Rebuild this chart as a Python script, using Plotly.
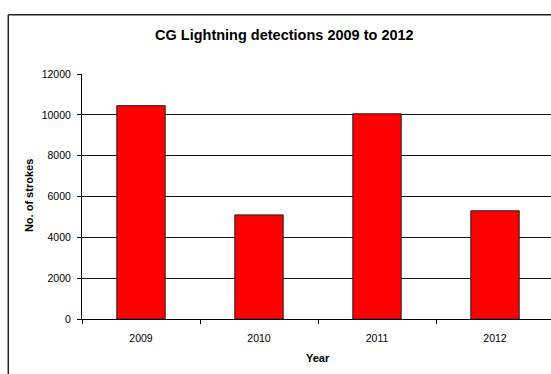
import plotly.graph_objects as go

years = ["2009", "2010", "2011", "2012"]
strokes = [10450, 5100, 10050, 5300]
y_ticks = [0, 2000, 4000, 6000, 8000, 10000, 12000]

W, H = 551, 374
L, T, B = 82, 73.5, 54.7
plot_w = W - L
plot_h = H - T - B
cat_w = 118.0
# the original plot extends slightly past the right edge of the picture
x_max = -0.5 + plot_w / cat_w

fig = go.Figure()
fig.add_trace(go.Bar(
    x=years, y=strokes,
    marker=dict(color="#FF0000", line=dict(color="#222222", width=1)),
    width=0.41,
))

font = "Liberation Sans, Arial, sans-serif"

def px_x(p):
    return (p - L) / plot_w

def px_y(p):
    return (H - B - p) / plot_h

fig.update_layout(
    width=W, height=H,
    margin=dict(l=L, r=0, t=T, b=B),
    paper_bgcolor="white", plot_bgcolor="white",
    showlegend=False,
    font=dict(family=font, size=10.5, color="#000000"),
    xaxis=dict(
        type="category", range=[-0.5, x_max],
        showgrid=False, showline=True, linecolor="#000000", linewidth=1,
        ticks="outside", ticklen=4, tickcolor="#000000", tickson="boundaries",
        tickfont=dict(size=10.5), zeroline=False, ticklabelstandoff=9,
    ),
    yaxis=dict(
        range=[0, 12000], tickvals=y_ticks, ticktext=[str(v) for v in y_ticks],
        showgrid=True, gridcolor="#111111", gridwidth=1,
        showline=True, linecolor="#000000", linewidth=1,
        ticks="outside", ticklen=4, tickcolor="#000000",
        tickfont=dict(size=10.5), zeroline=False, ticklabelstandoff=4,
    ),
    annotations=[
        dict(text="<b>CG Lightning detections 2009 to 2012</b>", xref="paper", yref="paper",
             x=px_x(284), y=px_y(34), showarrow=False, xanchor="center", yanchor="middle",
             font=dict(size=14.5, family=font, color="#000000")),
        dict(text="<b>No. of strokes</b>", xref="paper", yref="paper",
             x=px_x(29), y=px_y(196), showarrow=False, xanchor="center", yanchor="middle",
             textangle=-90, font=dict(size=11, family=font, color="#000000")),
        dict(text="<b>Year</b>", xref="paper", yref="paper",
             x=px_x(318), y=px_y(358), showarrow=False, xanchor="center", yanchor="middle",
             font=dict(size=11, family=font, color="#000000")),
    ],
    shapes=[
        dict(type="line", xref="paper", yref="paper",
             x0=px_x(8.3), x1=px_x(560), y0=px_y(14), y1=px_y(14),
             line=dict(color="#222222", width=1.5)),
        dict(type="line", xref="paper", yref="paper",
             x0=px_x(8.3), x1=px_x(8.3), y0=px_y(14), y1=px_y(380),
             line=dict(color="#222222", width=1.5)),
    ],
)

fig.write_html("out.html")
